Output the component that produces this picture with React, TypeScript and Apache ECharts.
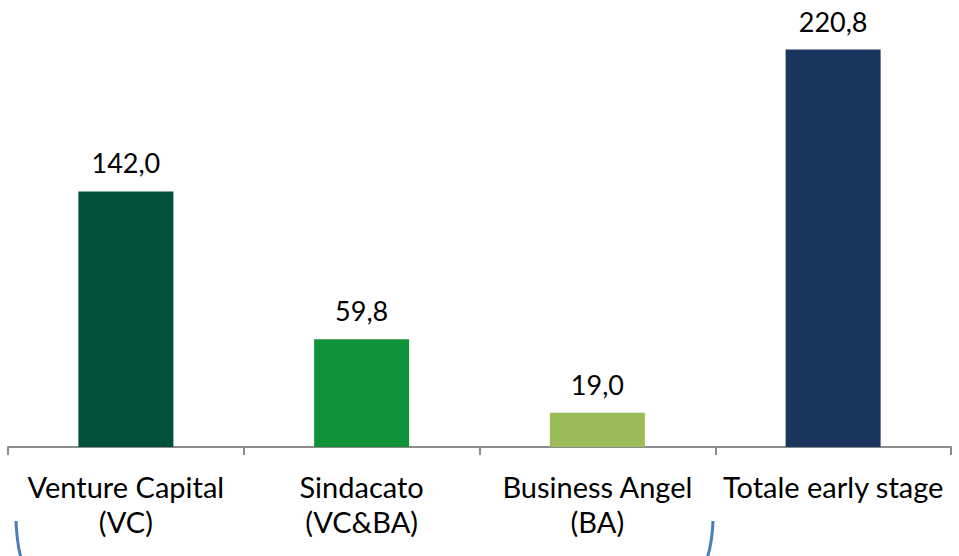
import React, { useEffect, useRef } from "react";
import * as echarts from "echarts";

const categories = ["Venture Capital\n(VC)", "Sindacato\n(VC&BA)", "Business Angel\n(BA)", "Totale early stage"];
const values = [142.0, 59.8, 19.0, 220.8];
const barColors = ["#03503A", "#10923B", "#9BBB59", "#1B365D"];

export default function App() {
  const ref = useRef<HTMLDivElement>(null);
  useEffect(() => {
    if (!ref.current) return;
    const chart = echarts.init(ref.current, null, { renderer: "svg" });
    const font = "Lato, 'Open Sans', sans-serif";
    chart.setOption({
      animation: false,
      backgroundColor: "#ffffff",
      grid: { left: 8, right: 8, top: 15, bottom: 109, containLabel: false },
      xAxis: {
        type: "category",
        data: categories,
        axisLine: { show: true, lineStyle: { color: "#8c8c8c", width: 2 } },
        axisTick: { show: true, length: 8, alignWithLabel: false, lineStyle: { color: "#8c8c8c", width: 2 } },
        axisLabel: {
          color: "#000000",
          fontFamily: font,
          fontSize: 29,
          lineHeight: 35,
          margin: 22,
          interval: 0,
        },
      },
      yAxis: {
        type: "value",
        min: 0,
        max: 240,
        show: false,
        splitLine: { show: false },
      },
      series: [
        {
          type: "bar",
          barWidth: 95,
          data: values.map((v, i) => ({ value: v, itemStyle: { color: barColors[i] } })),
          label: {
            show: true,
            position: "top",
            distance: 15,
            color: "#000000",
            fontFamily: font,
            fontSize: 27,
            formatter: (p: any) => Number(p.value).toFixed(1).replace(".", ","),
          },
        },
      ],
      graphic: [
        {
          type: "bezierCurve",
          shape: { x1: 16, y1: 521, cpx1: 17, cpy1: 545, x2: 22, y2: 562 },
          style: { stroke: "#4A7EBB", lineWidth: 3, fill: "none" },
        },
        {
          type: "bezierCurve",
          shape: { x1: 713, y1: 521, cpx1: 712, cpy1: 545, x2: 706, y2: 562 },
          style: { stroke: "#4A7EBB", lineWidth: 3, fill: "none" },
        },
      ],
    });
    return () => chart.dispose();
  }, []);
  return (
    <div
      ref={ref}
      style={{ position: "fixed", left: 0, top: 0, width: 959, height: 556, background: "#fff" }}
    />
  );
}
